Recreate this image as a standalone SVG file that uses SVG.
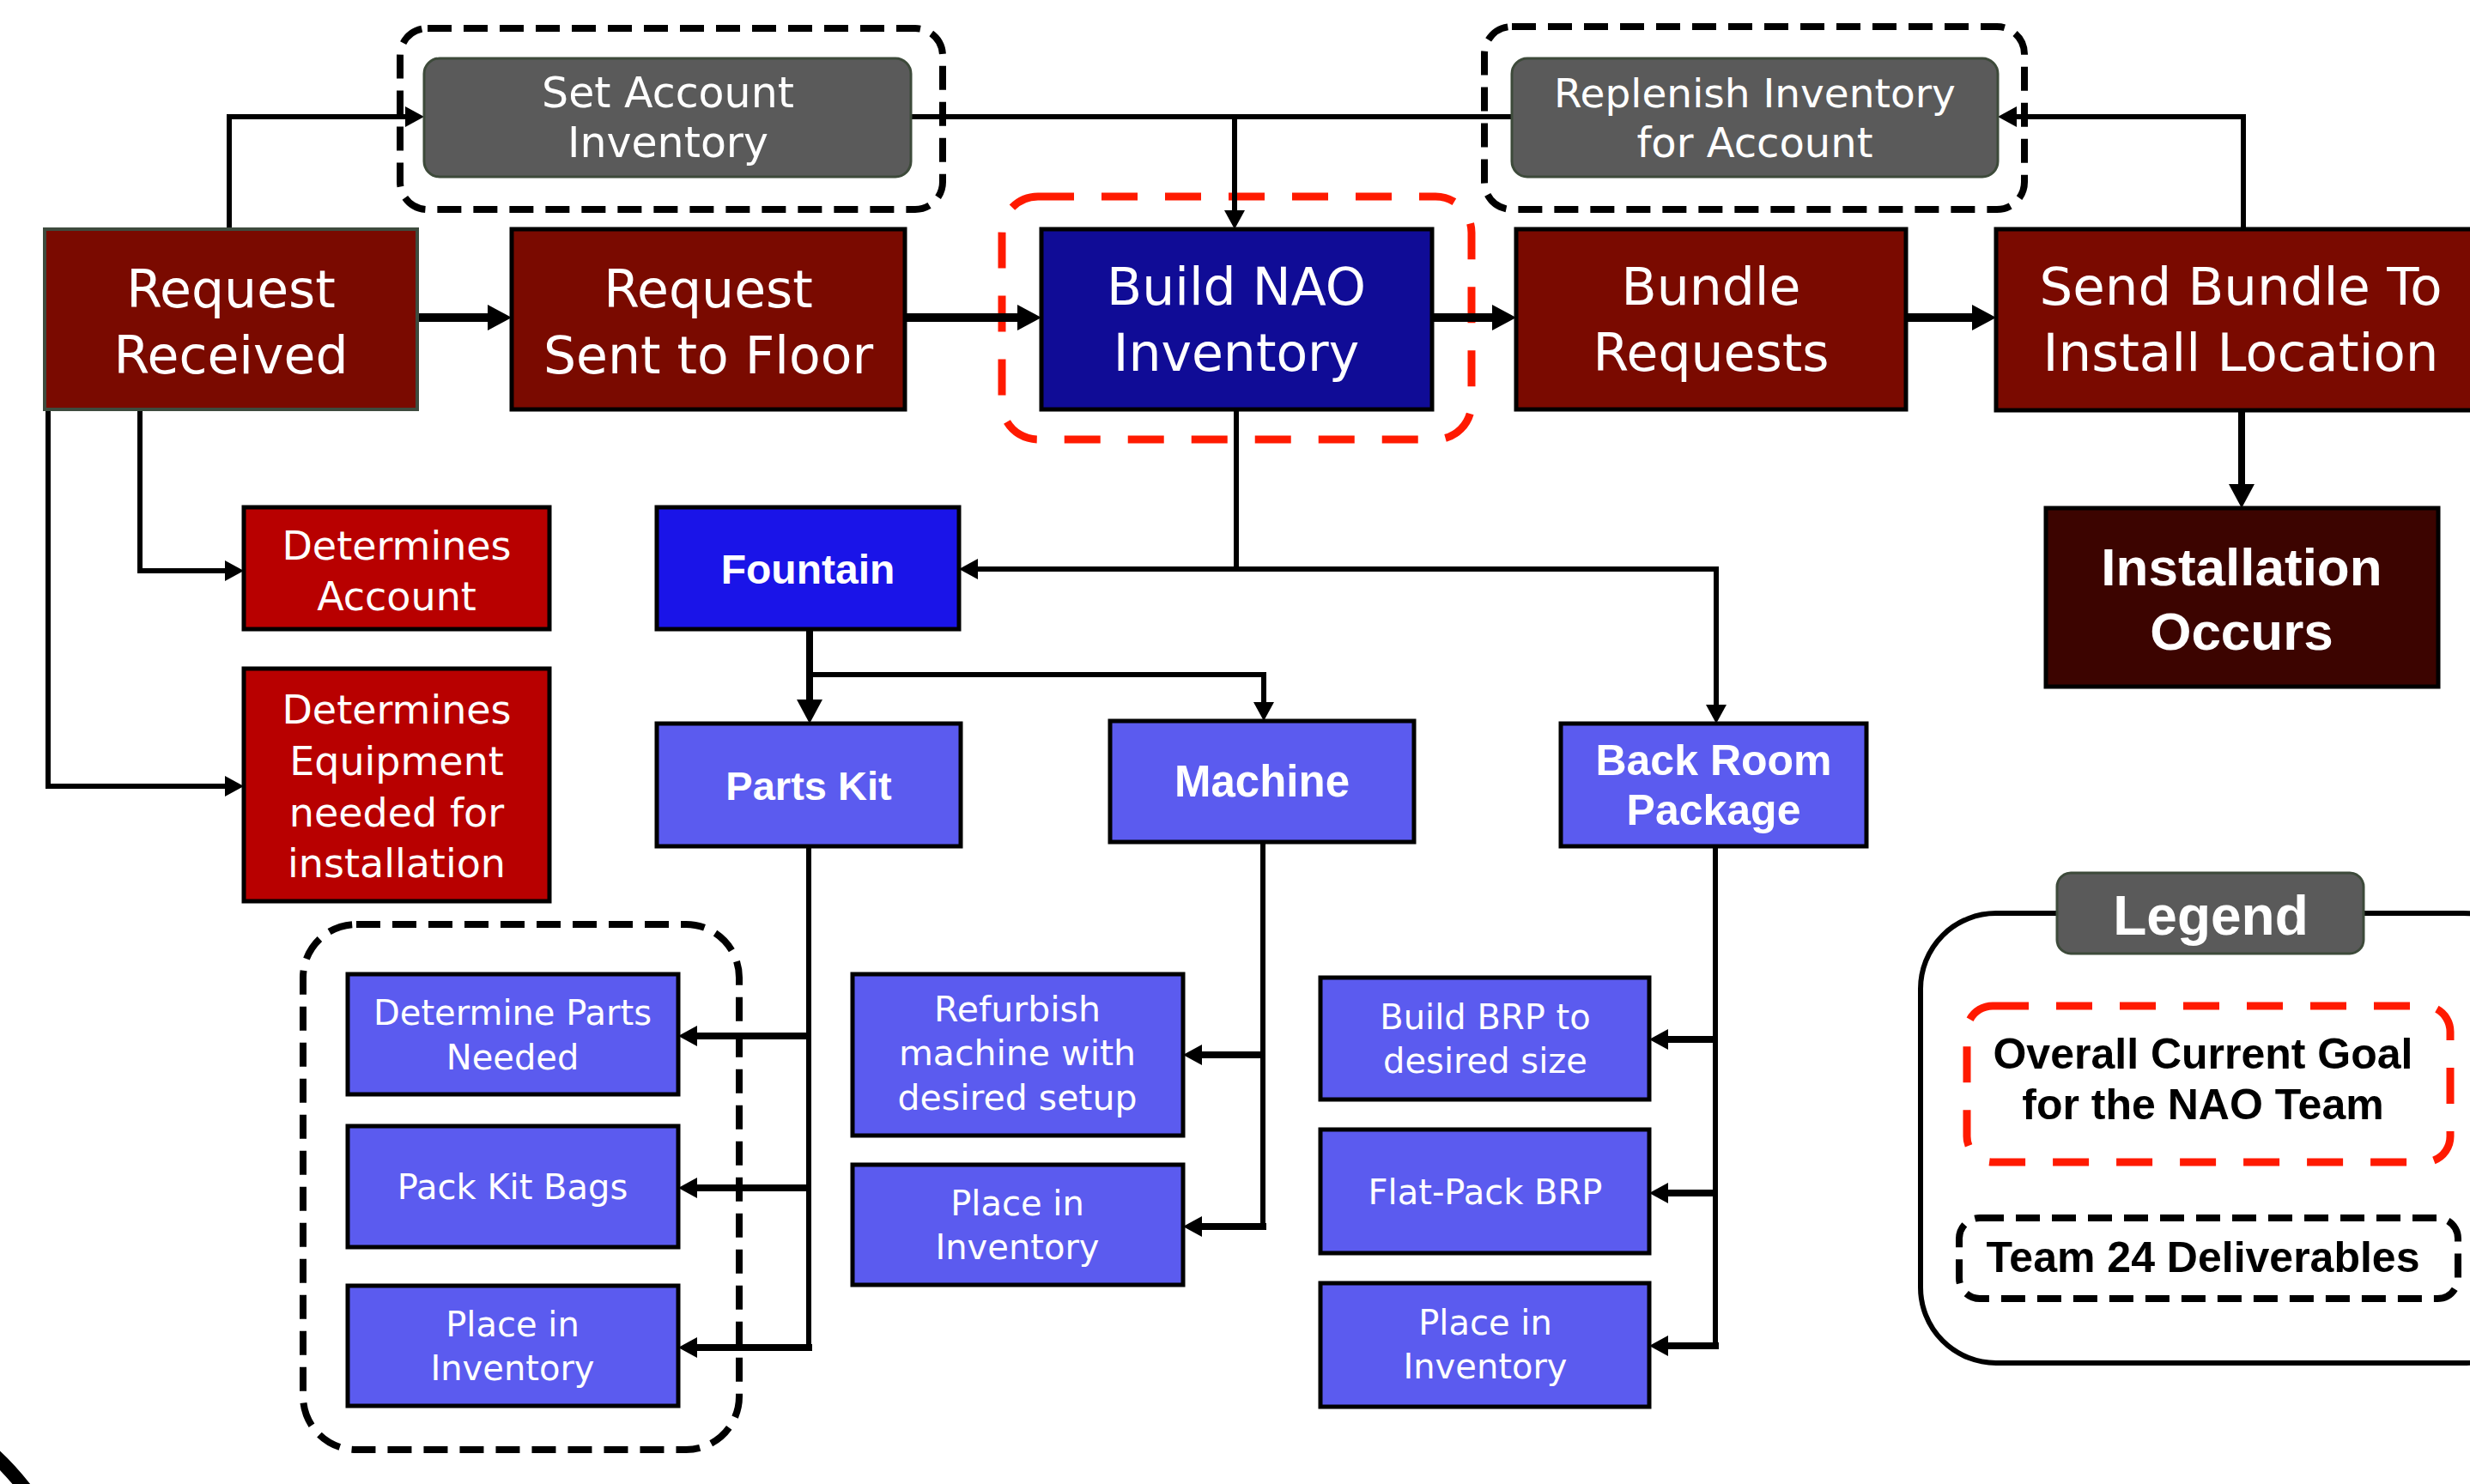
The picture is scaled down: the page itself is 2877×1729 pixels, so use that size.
<svg xmlns="http://www.w3.org/2000/svg" width="2877" height="1729" viewBox="0 0 2877 1729">
<style>
.t{font-family:"DejaVu Sans","Liberation Sans",sans-serif;fill:#fff;text-anchor:middle}
.b{font-family:"Liberation Sans","DejaVu Sans",sans-serif;font-weight:bold;fill:#fff;text-anchor:middle}
.dr{fill:#7a0a00;stroke:#000;stroke-width:5}
.rd{fill:#b80000;stroke:#000;stroke-width:5}
.nb{fill:#100c96;stroke:#000;stroke-width:5}
.fb{fill:#1a14e8;stroke:#000;stroke-width:5}
.lb{fill:#5b5bef;stroke:#000;stroke-width:5}
.io{fill:#3c0400;stroke:#000;stroke-width:5}
.gr{fill:#5a5a5a;stroke:#3d4a3a;stroke-width:3}
.bd{fill:none;stroke:#000;stroke-width:8;stroke-dasharray:28 14}
.rdsh{fill:none;stroke:#ff1a00;stroke-width:9;stroke-dasharray:42 32}
.c{fill:none;stroke:#000;stroke-width:6}
.ct{fill:none;stroke:#000;stroke-width:10}
.cm{fill:none;stroke:#000;stroke-width:8}
.lt{font-family:"Liberation Sans","DejaVu Sans",sans-serif;font-weight:bold;fill:#000;text-anchor:middle}
</style>
<defs>
<marker id="big" markerUnits="userSpaceOnUse" viewBox="0 0 28 30" refX="0" refY="15" markerWidth="28" markerHeight="30" orient="auto"><path d="M0,0 L28,15 L0,30 z" fill="#000"/></marker>
<marker id="med" markerUnits="userSpaceOnUse" viewBox="0 0 22 24" refX="0" refY="12" markerWidth="22" markerHeight="24" orient="auto"><path d="M0,0 L22,12 L0,24 z" fill="#000"/></marker>
</defs>
<rect width="2877" height="1729" fill="#fff"/>

<g id="groups">
<rect class="bd" x="466" y="33" width="632" height="211" rx="32"/>
<rect class="bd" x="1729" y="31" width="629" height="213" rx="32"/>
<rect class="rdsh" x="1167" y="229" width="547" height="283" rx="42"/>
<rect class="bd" x="353" y="1077" width="508" height="612" rx="62"/>
</g>

<g id="connectors">
<path class="c" d="M267,267 V136 H472" marker-end="url(#med)"/>
<path class="c" d="M1061,136 H1761"/>
<path class="c" d="M1438,136 V245" marker-end="url(#med)"/>
<path class="c" d="M2613,267 V136 H2349" marker-end="url(#med)"/>
<path class="ct" d="M486,370 H568" marker-end="url(#big)"/>
<path class="ct" d="M1054,370 H1185" marker-end="url(#big)"/>
<path class="ct" d="M1668,370 H1738" marker-end="url(#big)"/>
<path class="ct" d="M2220,370 H2297" marker-end="url(#big)"/>
<path class="cm" d="M2611,478 V564" marker-end="url(#big)"/>
<path class="c" d="M163,477 V665 H262" marker-end="url(#med)"/>
<path class="c" d="M56,477 V916 H262" marker-end="url(#med)"/>
<path class="c" d="M1440,477 V663 H1139" marker-end="url(#med)"/>
<path class="c" d="M1440,663 H1999 V821" marker-end="url(#med)"/>
<path class="cm" d="M943,733 V815" marker-end="url(#big)"/>
<path class="c" d="M943,786 H1472 V818" marker-end="url(#med)"/>
<path class="c" d="M942,986 V1574"/>
<path class="cm" d="M942,1207 H812" marker-end="url(#med)"/>
<path class="cm" d="M942,1384 H812" marker-end="url(#med)"/>
<path class="cm" d="M946,1570 H812" marker-end="url(#med)"/>
<path class="c" d="M1471,981 V1433"/>
<path class="cm" d="M1471,1229 H1400" marker-end="url(#med)"/>
<path class="cm" d="M1475,1429 H1400" marker-end="url(#med)"/>
<path class="c" d="M1998,986 V1572"/>
<path class="cm" d="M1998,1211 H1943" marker-end="url(#med)"/>
<path class="cm" d="M1998,1390 H1943" marker-end="url(#med)"/>
<path class="cm" d="M2002,1568 H1943" marker-end="url(#med)"/>
</g>

<g id="set-account">
<rect class="gr" x="494" y="68" width="567" height="138" rx="18"/>
<text class="t" x="778" y="125" font-size="49" fill="#f0f0f0">Set Account</text>
<text class="t" x="778" y="183" font-size="49">Inventory</text>
</g>
<g id="replenish">
<rect class="gr" x="1761" y="68" width="566" height="138" rx="18"/>
<text class="t" x="2044" y="125" font-size="47">Replenish Inventory</text>
<text class="t" x="2044" y="183" font-size="48">for Account</text>
</g>

<g id="request-received">
<rect x="52" y="267" width="434" height="210" fill="#7a0a00" stroke="#3e4b3e" stroke-width="4"/>
<text class="t" x="269" y="358" font-size="60">Request</text>
<text class="t" x="269" y="435" font-size="60">Received</text>
</g>
<g id="request-sent">
<rect class="dr" x="596" y="267" width="458" height="210"/>
<text class="t" x="825" y="358" font-size="60">Request</text>
<text class="t" x="825" y="435" font-size="60">Sent to Floor</text>
</g>
<g id="build-nao">
<rect class="nb" x="1213" y="267" width="455" height="210"/>
<text class="t" x="1440" y="355" font-size="60">Build NAO</text>
<text class="t" x="1440" y="432" font-size="60">Inventory</text>
</g>
<g id="bundle">
<rect class="dr" x="1766" y="267" width="454" height="210"/>
<text class="t" x="1993" y="355" font-size="60">Bundle</text>
<text class="t" x="1993" y="432" font-size="60">Requests</text>
</g>
<g id="send-bundle">
<rect class="dr" x="2325" y="267" width="580" height="211"/>
<text class="t" x="2610" y="355" font-size="61">Send Bundle To</text>
<text class="t" x="2610" y="432" font-size="61">Install Location</text>
</g>
<g id="installation">
<rect class="io" x="2383" y="592" width="457" height="208"/>
<text class="b" x="2611" y="682" font-size="62">Installation</text>
<text class="b" x="2611" y="757" font-size="62">Occurs</text>
</g>

<g id="determines-account">
<rect class="rd" x="284" y="591" width="356" height="142"/>
<text class="t" x="462" y="652" font-size="46">Determines</text>
<text class="t" x="462" y="711" font-size="46">Account</text>
</g>
<g id="determines-equipment">
<rect class="rd" x="284" y="779" width="356" height="271"/>
<text class="t" x="462" y="843" font-size="46">Determines</text>
<text class="t" x="462" y="903" font-size="46">Equipment</text>
<text class="t" x="462" y="963" font-size="46">needed for</text>
<text class="t" x="462" y="1022" font-size="46">installation</text>
</g>

<g id="fountain">
<rect class="fb" x="765" y="591" width="352" height="142"/>
<text class="b" x="941" y="680" font-size="48">Fountain</text>
</g>
<g id="parts-kit">
<rect class="lb" x="765" y="843" width="354" height="143"/>
<text class="b" x="942" y="932" font-size="47">Parts Kit</text>
</g>
<g id="machine">
<rect class="lb" x="1293" y="840" width="354" height="141"/>
<text class="b" x="1470" y="928" font-size="51">Machine</text>
</g>
<g id="back-room">
<rect class="lb" x="1818" y="843" width="356" height="143"/>
<text class="b" x="1996" y="903" font-size="50">Back Room</text>
<text class="b" x="1996" y="961" font-size="50">Package</text>
</g>

<g id="determine-parts">
<rect class="lb" x="405" y="1135" width="385" height="140"/>
<text class="t" x="597" y="1194" font-size="40">Determine Parts</text>
<text class="t" x="597" y="1246" font-size="40">Needed</text>
</g>
<g id="pack-kit">
<rect class="lb" x="405" y="1312" width="385" height="141"/>
<text class="t" x="597" y="1397" font-size="40">Pack Kit Bags</text>
</g>
<g id="place-kit">
<rect class="lb" x="405" y="1498" width="385" height="140"/>
<text class="t" x="597" y="1557" font-size="40">Place in</text>
<text class="t" x="597" y="1608" font-size="40">Inventory</text>
</g>
<g id="refurbish">
<rect class="lb" x="993" y="1135" width="385" height="188"/>
<text class="t" x="1185" y="1190" font-size="41">Refurbish</text>
<text class="t" x="1185" y="1241" font-size="41">machine with</text>
<text class="t" x="1185" y="1293" font-size="41">desired setup</text>
</g>
<g id="place-machine">
<rect class="lb" x="993" y="1357" width="385" height="140"/>
<text class="t" x="1185" y="1416" font-size="40">Place in</text>
<text class="t" x="1185" y="1467" font-size="40">Inventory</text>
</g>
<g id="build-brp">
<rect class="lb" x="1538" y="1139" width="383" height="142"/>
<text class="t" x="1730" y="1199" font-size="40">Build BRP to</text>
<text class="t" x="1730" y="1250" font-size="40">desired size</text>
</g>
<g id="flat-pack">
<rect class="lb" x="1538" y="1316" width="383" height="144"/>
<text class="t" x="1730" y="1403" font-size="40">Flat-Pack BRP</text>
</g>
<g id="place-brp">
<rect class="lb" x="1538" y="1495" width="383" height="144"/>
<text class="t" x="1730" y="1555" font-size="40">Place in</text>
<text class="t" x="1730" y="1606" font-size="40">Inventory</text>
</g>

<g id="legend">
<rect x="2237" y="1064" width="720" height="524" rx="88" fill="none" stroke="#000" stroke-width="6"/>
<rect class="gr" x="2396" y="1017" width="357" height="94" rx="16"/>
<text class="b" x="2575" y="1089" font-size="64">Legend</text>
<rect class="rdsh" x="2291" y="1172" width="563" height="182" rx="30"/>
<text class="lt" x="2566" y="1245" font-size="50">Overall Current Goal</text>
<text class="lt" x="2566" y="1304" font-size="50">for the NAO Team</text>
<rect class="bd" x="2282" y="1419" width="581" height="94" rx="24"/>
<text class="lt" x="2566" y="1482" font-size="50">Team 24 Deliverables</text>
</g>

<path d="M-8,1694 Q12,1712 32,1738" fill="none" stroke="#000" stroke-width="16"/>
</svg>
